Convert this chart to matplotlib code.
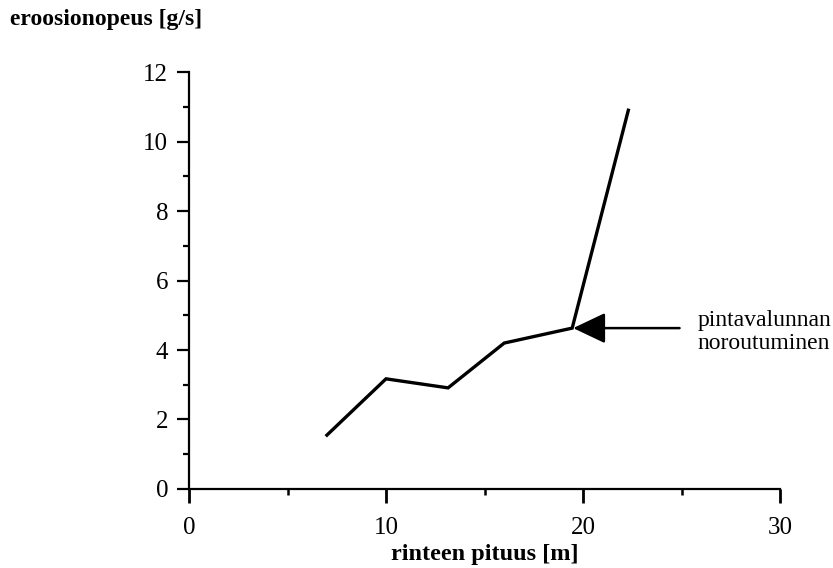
import matplotlib
matplotlib.use("Agg")
import matplotlib.pyplot as plt
from matplotlib.ticker import MultipleLocator

# rinteen pituus [m] vs eroosionopeus [g/s]
pituus = [7.0, 10.0, 13.15, 16.0, 19.45, 22.3]
eroosio = [1.55, 3.17, 2.91, 4.2, 4.63, 10.9]

x_ticks = [0, 10, 20, 30]
y_ticks = [0, 2, 4, 6, 8, 10, 12]

plt.rcParams['font.family'] = ['Liberation Serif', 'DejaVu Serif']

fig = plt.figure(figsize=(8.33, 5.68), dpi=100)
ax = fig.add_axes([0.2269, 0.1391, 0.7095, 0.7341])

ax.plot(pituus, eroosio, color='black', lw=2.4, solid_joinstyle='miter')

ax.set_xlim(0, 30)
ax.set_ylim(0, 12)
ax.set_xticks(x_ticks)
ax.set_yticks(y_ticks)
ax.xaxis.set_minor_locator(MultipleLocator(5))
ax.yaxis.set_minor_locator(MultipleLocator(1))

for s in ['top', 'right']:
    ax.spines[s].set_visible(False)
for s in ['left', 'bottom']:
    ax.spines[s].set_linewidth(1.6)

ax.tick_params(axis='x', which='major', length=10, width=2, pad=10, labelsize=18)
ax.tick_params(axis='x', which='minor', length=4, width=1.8)
ax.tick_params(axis='y', which='major', length=9, width=1.6, pad=6, labelsize=18)
ax.tick_params(axis='y', which='minor', length=4.5, width=1.6)

ax.set_xlabel('rinteen pituus [m]', fontsize=17.5, fontweight='bold', labelpad=4)
fig.text(0.012, 0.966, 'eroosionopeus [g/s]', fontsize=17, fontweight='bold',
         ha='left', va='center')

# nuoli noroutumiskohtaan
ax.annotate('', xy=(pituus[4] + 0.05, eroosio[4]), xytext=(24.9, eroosio[4]),
            arrowprops=dict(arrowstyle='-|>,head_length=2.0,head_width=0.95',
                            color='black', lw=1.8, shrinkA=0, shrinkB=0),
            annotation_clip=False)
ax.text(25.8, 4.52, 'pintavalunnan\nnoroutuminen', fontsize=17, ha='left',
        va='center', linespacing=1.15, clip_on=False)

fig.savefig('out.png', dpi=100, facecolor='white')
